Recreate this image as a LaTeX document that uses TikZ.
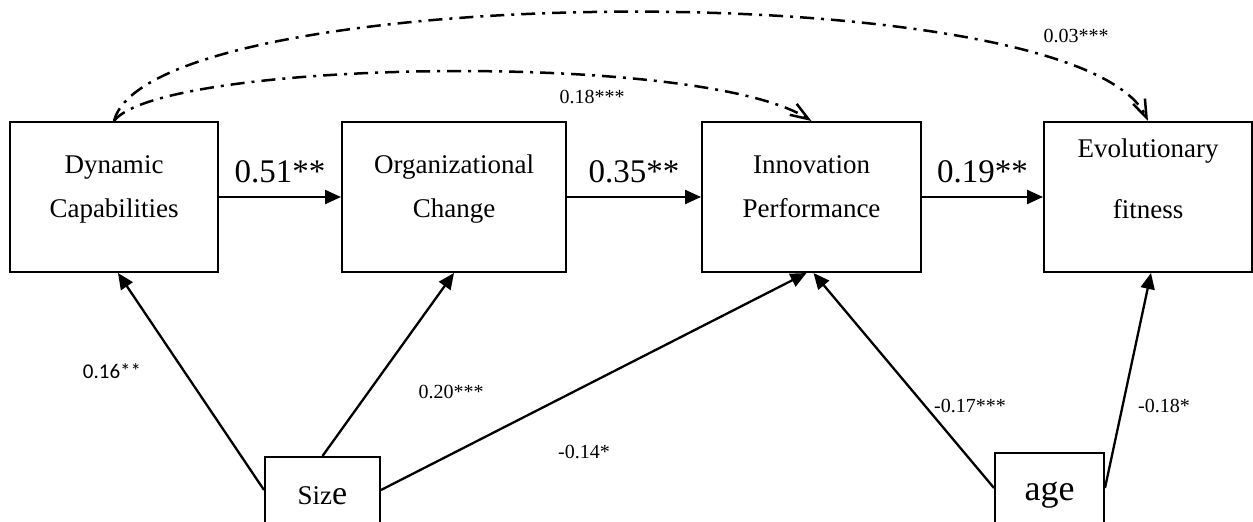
\documentclass[tikz,border=0pt]{standalone}
\usepackage{fontspec}
\setmainfont{Liberation Serif}
\newfontfamily\carlito{Carlito}
\usetikzlibrary{arrows.meta,calc}

\tikzset{
  varbox/.style={draw, line width=2pt, inner sep=0pt, font=\fontsize{27}{44}\selectfont},
  ctrlbox/.style={draw, line width=2pt, inner sep=0pt, text depth=0pt},
  pathline/.style={line width=2.3pt, -{Triangle[length=16pt,width=14pt]}},
  effect/.style={line width=2.5pt, dash pattern=on 14pt off 7pt on 3pt off 7pt,
                 -{Straight Barb[length=18pt,width=13pt]}},
  coef/.style={font=\fontsize{33}{40}\selectfont, anchor=base, inner sep=0pt},
  small/.style={font=\fontsize{20}{24}\selectfont, anchor=base, inner sep=0pt},
}

\begin{document}
\begin{tikzpicture}[x=1pt,y=-1pt]
\clip (0,0) rectangle (1253,522);

% main chain of constructs
\node[varbox] (dc) at (114,197)
  {\parbox[c][150pt][t]{208pt}{\centering\rule{0pt}{51pt}Dynamic\\Capabilities}};
\node[varbox] (oc) at (454,197)
  {\parbox[c][150pt][t]{224pt}{\centering\rule{0pt}{51pt}Organizational\\Change}};
\node[varbox] (ip) at (811.5,197)
  {\parbox[c][150pt][t]{219pt}{\centering\rule{0pt}{51pt}Innovation\\Performance}};
\node[varbox] (ef) at (1148,197)
  {\parbox[c][150pt][t]{208pt}{\centering\rule{0pt}{35pt}Evolutionary\\[17pt]fitness}};

% control variables
\node[ctrlbox, minimum width=115pt, minimum height=66pt, text height=28pt] (size) at (322.5,490)
  {\fontsize{27}{30}\selectfont Siz{\fontsize{34}{36}\selectfont e}};
\node[ctrlbox, minimum width=109pt, minimum height=70pt, text height=24pt] (age) at (1049.5,488)
  {\fontsize{36}{40}\selectfont age\hspace{17pt}};

% direct paths
\draw[pathline] (dc) -- node[coef, yshift=15pt] {0.51**} (oc);
\draw[pathline] (oc) -- node[coef, yshift=15pt] {0.35**} (ip);
\draw[pathline] (ip) -- node[coef, yshift=15pt] {0.19**} (ef);

% control paths
\draw[pathline] (size.west) -- ([xshift=4pt]dc.south);
\draw[pathline] (size.north) -- (oc.south);
\draw[pathline] (size.east) -- ([xshift=-5pt]ip.south);
\draw[pathline] (age.west) -- ([xshift=2pt]ip.south);
\draw[pathline] (age.east) -- ([xshift=3pt]ef.south);

% indirect effects
\draw[effect] (dc.north) .. controls (150,-20) and (1080,-28) .. (ef.north);
\draw[effect] (dc.north) .. controls (160,60) and (700,50) .. (ip.north);

% coefficients
\node[small] (l018) at (592,103) {0.18***};
\node[small] (l003) at (1076,42) {0.03***};
\node[small, font=\carlito\fontsize{21}{24}\selectfont] (l016) at (112,378) {0.16**};
\node[small] (l020) at (451,398) {0.20***};
\node[small] (l014) at (584,458) {-0.14*};
\node[small] (l017) at (970,412) {-0.17***};
\node[small] (l018b) at (1164,412) {-0.18*};
\end{tikzpicture}
\end{document}
